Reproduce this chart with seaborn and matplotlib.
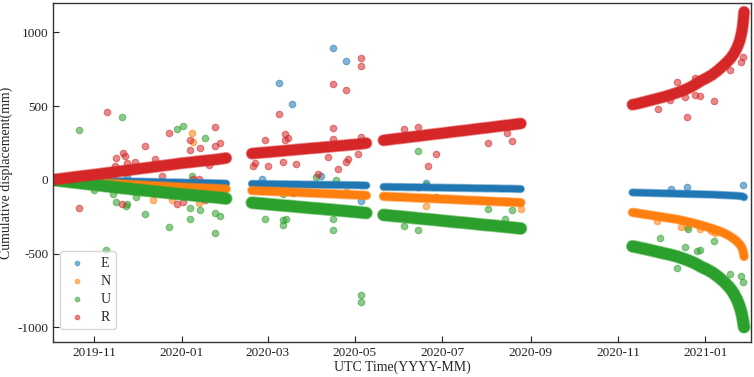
import pandas as pd
import matplotlib.pyplot as plt
import matplotlib.dates as mdates
import seaborn as sns

# --- settings ---
OUTPUT_IMG = 'out.png'
COMPONENTS = ['E', 'N', 'U', 'R']
COLORS = {'E': '#1f77b4', 'N': '#ff7f0e', 'U': '#2ca02c', 'R': '#d62728'}
# thickness of the dense cloud of daily solutions (points)
BAND_WIDTH = {'E': 4.8, 'N': 5.8, 'U': 8.2, 'R': 7.6}

# --- dense band: sample dates of each observation arc ---
seg1_dates = pd.date_range('2019-10-04', periods=31, freq='4D')
seg2_dates = pd.date_range('2020-02-19', periods=21, freq='4D')
seg3_dates = pd.date_range('2020-05-21', periods=25, freq='4D')
seg4_dates = pd.to_datetime([
    '2020-11-11 00:00', '2020-11-15 00:00', '2020-11-19 00:00', '2020-11-23 00:00',
    '2020-11-27 00:00', '2020-12-01 00:00', '2020-12-05 00:00', '2020-12-09 00:00',
    '2020-12-13 00:00', '2020-12-17 00:00', '2020-12-21 00:00', '2020-12-25 00:00',
    '2020-12-29 00:00', '2021-01-02 00:00', '2021-01-06 00:00', '2021-01-10 00:00',
    '2021-01-14 00:00', '2021-01-17 00:00', '2021-01-19 00:00', '2021-01-21 00:00',
    '2021-01-23 00:00', '2021-01-24 00:00', '2021-01-25 00:00', '2021-01-26 00:00',
    '2021-01-26 12:00', '2021-01-27 00:00', '2021-01-27 12:00', '2021-01-28 00:00'])

# --- band values (mm) ---
e1 = [0, -1, -2, -3, -3, -4, -5, -6, -7, -8, -8, -9, -10, -11, -12, -12,
      -13, -14, -15, -16, -17, -17, -18, -19, -20, -21, -21, -22, -23, -24, -25]
n1 = [-1, -3, -6, -8, -10, -13, -15, -17, -19, -22, -24, -26, -28, -31, -33, -35,
      -37, -39, -41, -43, -45, -47, -49, -51, -52, -54, -55, -57, -58, -60, -62]
u1 = [-2, -7, -11, -16, -20, -25, -29, -34, -38, -43, -47, -52, -56, -60, -65, -69,
      -73, -77, -81, -85, -89, -93, -97, -101, -104, -108, -111, -115, -118, -122, -127]
r1 = [2, 7, 12, 17, 22, 27, 31, 36, 41, 46, 51, 56, 61, 66, 71, 76,
      81, 86, 91, 96, 101, 106, 112, 116, 120, 125, 129, 133, 137, 142, 148]

e2 = [-27, -28, -28, -29, -29, -30, -30, -31, -31, -32, -32,
      -33, -33, -34, -34, -35, -35, -36, -36, -37, -38]
n2 = [-72, -74, -76, -77, -79, -80, -82, -84, -85, -87, -89,
      -90, -92, -94, -95, -97, -99, -100, -102, -104, -106]
u2 = [-155, -159, -162, -166, -169, -173, -176, -179, -183, -186, -190,
      -193, -196, -200, -203, -207, -210, -214, -217, -221, -225]
r2 = [178, 182, 185, 188, 192, 195, 199, 202, 206, 209, 213,
      216, 219, 223, 226, 230, 233, 237, 240, 244, 249]

e3 = [-48, -48, -49, -49, -50, -50, -51, -51, -52, -53, -53, -54, -54,
      -55, -55, -56, -57, -57, -58, -58, -59, -60, -60, -61, -62]
n3 = [-112, -114, -116, -117, -119, -121, -123, -124, -126, -128, -130, -131, -133,
      -135, -137, -139, -140, -142, -144, -146, -148, -149, -151, -153, -155]
u3 = [-238, -242, -246, -249, -253, -257, -261, -265, -268, -272, -276, -280, -284,
      -288, -291, -295, -299, -303, -307, -310, -314, -318, -322, -326, -330]
r3 = [268, 273, 278, 282, 287, 292, 296, 301, 306, 311, 315, 320, 325,
      330, 334, 339, 344, 349, 353, 358, 363, 368, 372, 377, 382]

e4 = [-86, -87, -88, -89, -90, -91, -92, -93, -94, -95, -96, -97, -98, -99,
      -100, -102, -104, -105, -106, -107, -108, -109, -110, -111, -112, -113, -115, -118]
n4 = [-221, -227, -233, -239, -245, -251, -257, -263, -270, -278, -287, -297, -308, -319,
      -331, -345, -361, -376, -388, -401, -417, -427, -438, -452, -462, -474, -492, -520]
u4 = [-451, -459, -467, -476, -485, -494, -503, -512, -523, -536, -551, -568, -590, -608,
      -630, -658, -692, -722, -745, -775, -812, -835, -862, -895, -915, -940, -970, -1000]
r4 = [510, 518, 528, 538, 548, 558, 569, 581, 594, 609, 626, 648, 672, 692,
      715, 745, 780, 808, 830, 858, 895, 918, 945, 985, 1010, 1040, 1085, 1140]

# --- scattered outliers ---
e_out_dates = ['2019-11-24', '2020-02-26', '2020-03-09', '2020-03-18', '2020-04-07',
               '2020-04-16', '2020-04-25', '2020-05-05', '2020-06-20', '2020-12-08',
               '2020-12-19', '2021-01-27']
e_out_vals = [18, 7, 657, 514, 27, 897, 806, -146, -20, -61, -50, -38]

n_out_dates = ['2019-12-12', '2019-12-25', '2020-01-08', '2020-01-09', '2020-01-13',
               '2020-02-22', '2020-04-25', '2020-05-06', '2020-06-20', '2020-08-25',
               '2020-11-28', '2020-12-15', '2020-12-19', '2020-12-28', '2021-01-05',
               '2021-01-08']
n_out_vals = [-140, -135, 315, 259, -158, -34, -80, -34, -176, -196,
              -282, -320, -320, -333, -349, -360]

u_out_dates = ['2019-10-21', '2019-11-01', '2019-11-09', '2019-11-14', '2019-11-16',
               '2019-11-20', '2019-11-23', '2019-11-24', '2019-11-30', '2019-12-06',
               '2019-12-23', '2019-12-29', '2020-01-02', '2020-01-07', '2020-01-07',
               '2020-01-08', '2020-01-14', '2020-01-17', '2020-01-24', '2020-01-24',
               '2020-01-28', '2020-02-28', '2020-03-12', '2020-03-12', '2020-03-12',
               '2020-03-14', '2020-03-19', '2020-04-04', '2020-04-16', '2020-04-16',
               '2020-04-18', '2020-05-05', '2020-05-05', '2020-06-04', '2020-06-14',
               '2020-06-14', '2020-06-20', '2020-06-27', '2020-08-02', '2020-08-14',
               '2020-08-19', '2020-11-30', '2020-12-12', '2020-12-18', '2020-12-20',
               '2020-12-26', '2020-12-28', '2021-01-07', '2021-01-18', '2021-01-26',
               '2021-01-27']
u_out_vals = [340, -68, -475, -97, -151, 426, -180, -162, -119, -232,
              -322, 342, 367, -194, -266, 27, -205, 282, -223, -358,
              -248, -266, -275, -309, -95, -268, -86, 18, -268, -342,
              0, -779, -829, -313, -338, 198, -36, -117, -200, -266,
              -205, -394, -601, -455, -331, -484, -475, -412, -642, -653,
              -691]

r_out_dates = ['2019-10-21', '2019-11-10', '2019-11-15', '2019-11-16', '2019-11-20',
               '2019-11-21', '2019-11-22', '2019-11-24', '2019-11-27', '2019-11-29',
               '2019-12-06', '2019-12-13', '2019-12-18', '2019-12-23', '2019-12-29',
               '2020-01-02', '2020-01-07', '2020-01-07', '2020-01-09', '2020-01-13',
               '2020-01-14', '2020-01-17', '2020-01-20', '2020-01-24', '2020-01-24',
               '2020-01-28', '2020-02-20', '2020-02-21', '2020-02-28', '2020-03-01',
               '2020-03-09', '2020-03-12', '2020-03-13', '2020-03-13', '2020-03-15',
               '2020-03-21', '2020-04-05', '2020-04-12', '2020-04-16', '2020-04-16',
               '2020-04-16', '2020-04-19', '2020-04-25', '2020-04-25', '2020-04-26',
               '2020-05-03', '2020-05-05', '2020-05-05', '2020-05-05', '2020-06-04',
               '2020-06-14', '2020-06-14', '2020-06-21', '2020-06-27', '2020-08-02',
               '2020-08-15', '2020-08-19', '2020-11-29', '2020-12-07', '2020-12-12',
               '2020-12-18', '2020-12-19', '2020-12-25', '2020-12-25', '2020-12-28',
               '2021-01-07', '2021-01-18', '2021-01-26', '2021-01-27']
r_out_vals = [-194, 461, 95, 146, -167, 180, 164, 115, -41, 124,
              232, 140, 27, 320, -162, -153, 270, 200, 5, 7,
              214, -135, 99, 356, 232, 252, 97, 113, 272, 97,
              446, 122, 313, 270, 286, 110, 41, 158, 651, 354,
              279, 76, 613, 124, 144, 178, 829, 770, 293, 347,
              360, -47, 97, 176, 252, 315, 261, 478, 541, 667,
              559, 428, 690, 574, 568, 534, 748, 800, 833]


def main():
    seg_dates = [seg1_dates, seg2_dates, seg3_dates, seg4_dates]
    band_vals = {
        'E': [e1, e2, e3, e4],
        'N': [n1, n2, n3, n4],
        'U': [u1, u2, u3, u4],
        'R': [r1, r2, r3, r4],
    }
    out_pts = {
        'E': (e_out_dates, e_out_vals),
        'N': (n_out_dates, n_out_vals),
        'U': (u_out_dates, u_out_vals),
        'R': (r_out_dates, r_out_vals),
    }

    sns.set_style('ticks')
    plt.rcParams['font.family'] = ['Liberation Serif', 'DejaVu Serif']
    plt.rcParams['axes.unicode_minus'] = False

    fig = plt.figure(figsize=(7.54, 3.77), dpi=100)
    ax = fig.add_axes([0.0703, 0.093, 0.926, 0.899])

    for comp in COMPONENTS:
        rows = []
        for k, (dates, vals) in enumerate(zip(seg_dates, band_vals[comp])):
            for d, v in zip(dates, vals):
                rows.append({'date': d, 'value': v, 'seg': k})
        band = pd.DataFrame(rows)
        lw = BAND_WIDTH[comp]
        # soft fringe, then the solid core of the point cloud
        sns.lineplot(data=band, x='date', y='value', units='seg', estimator=None,
                     color=COLORS[comp], linewidth=lw + 1.2, alpha=0.5,
                     solid_capstyle='round', solid_joinstyle='round', ax=ax)
        sns.lineplot(data=band, x='date', y='value', units='seg', estimator=None,
                     color=COLORS[comp], linewidth=lw,
                     solid_capstyle='round', solid_joinstyle='round', ax=ax)
        d, v = out_pts[comp]
        outl = pd.DataFrame({'date': pd.to_datetime(d), 'value': v})
        sns.scatterplot(data=outl, x='date', y='value', color=COLORS[comp],
                        s=22, alpha=0.55, edgecolor=COLORS[comp], linewidth=0.8,
                        label=comp, ax=ax)

    ax.set_xlim(pd.Timestamp('2019-10-03'), pd.Timestamp('2021-02-02'))
    ax.set_ylim(-1100, 1200)
    ax.set_yticks([-1000, -500, 0, 500, 1000])
    ax.xaxis.set_major_locator(mdates.MonthLocator(bymonth=[1, 3, 5, 7, 9, 11]))
    ax.xaxis.set_major_formatter(mdates.DateFormatter('%Y-%m'))
    ax.tick_params(direction='in', length=4, labelsize=9.5, colors='#222222')

    for sp in ax.spines.values():
        sp.set_color('#333333')
        sp.set_linewidth(1.0)

    ax.set_xlabel('UTC Time(YYYY-MM)', fontsize=10, labelpad=1)
    ax.set_ylabel('Cumulative displacement(mm)', fontsize=10, labelpad=3)

    ax.legend(loc='lower left', bbox_to_anchor=(0.01, 0.038), borderaxespad=0,
              fontsize=10, markerscale=0.7, handlelength=1.6, handletextpad=0.9,
              labelspacing=0.35)

    fig.savefig(OUTPUT_IMG, dpi=100)


if __name__ == "__main__":
    main()
